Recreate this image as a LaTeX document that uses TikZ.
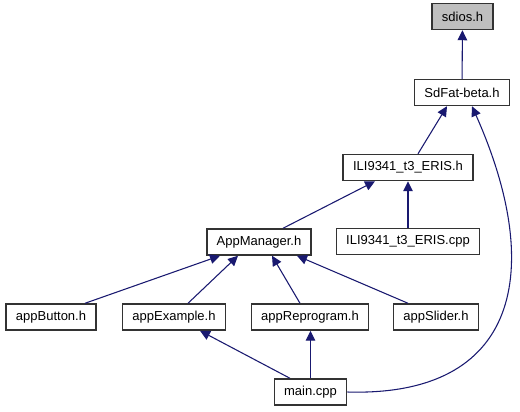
\documentclass[tikz,border=0pt]{standalone}
\usepackage{fontspec}
\setmainfont{Liberation Sans}
\usetikzlibrary{arrows.meta,positioning}

\definecolor{edgeblue}{HTML}{191970}
\definecolor{rootgray}{HTML}{BFBFBF}

\begin{document}
\begin{tikzpicture}[
  x=0.75pt, y=-0.75pt,
  box/.style={draw=black!80, line width=1.1pt, fill=white, minimum height=19.5pt, inner xsep=7.4pt, inner ysep=0pt, font=\fontsize{9.75}{11}\selectfont},
  arrow/.style={-{Triangle[length=7.5pt,width=7.2pt]}, draw=edgeblue, line width=0.8pt}
]
\fill[white] (0,0) rectangle (520,411);
\useasboundingbox (0,0) rectangle (520,411);

\node[box, fill=rootgray] (sdios) at (462.5,16.5) {sdios.h};
\node[box] (sdfat) at (462,92.5) {SdFat-beta.h};
\node[box] (ili) at (408,167.5) {ILI9341\_t3\_ERIS.h};
\node[box] (ilicpp) at (408,241.5) {ILI9341\_t3\_ERIS.cpp};
\node[box] (appm) at (259,242) {AppManager.h};
\node[box] (button) at (51,317) {appButton.h};
\node[box] (example) at (174,317) {appExample.h};
\node[box] (reprog) at (310,317) {appReprogram.h};
\node[box] (slider) at (436,317) {appSlider.h};
\node[box] (main) at (310.5,392) {main.cpp};

% includes, pointing at the included file
\draw[arrow] (sdfat) -- (sdios);
\draw[arrow] ([xshift=7.5pt]ili.north) -- ([xshift=-11.25pt]sdfat.south);
\draw[arrow] ([xshift=18pt]appm.north) -- ([xshift=-24.75pt]ili.south);
\draw[arrow] (ilicpp) -- (ili);
\draw[arrow] ([xshift=25.5pt]button.north) -- ([xshift=-29.25pt]appm.south);
\draw[arrow] ([xshift=10.5pt]example.north) -- ([xshift=-15.75pt]appm.south);
\draw[arrow] ([xshift=-7.5pt]reprog.north) -- ([xshift=9.75pt]appm.south);
\draw[arrow] ([xshift=-21pt]slider.north) -- ([xshift=28.5pt]appm.south);
\draw[arrow] ([xshift=-15.4pt]main.north) -- ([xshift=19.5pt]example.south);
\draw[arrow] (main.north) -- (main.north |- reprog.south);
\draw[arrow] (main.east) .. controls +(172,5) and +(73,164) .. ([xshift=7.5pt]sdfat.south);
\end{tikzpicture}
\end{document}
